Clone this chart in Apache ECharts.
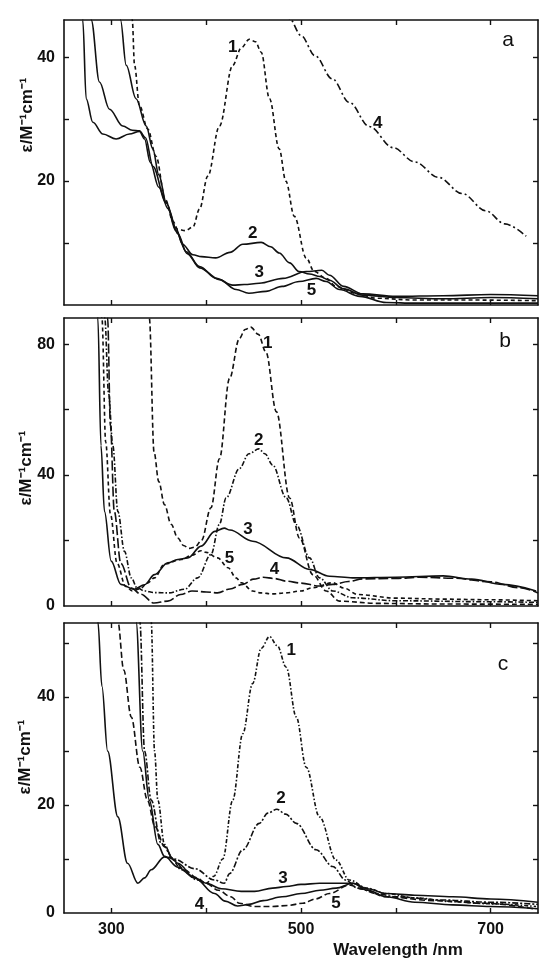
<!DOCTYPE html>
<html>
<head>
<meta charset="utf-8">
<script src="https://cdn.jsdelivr.net/npm/echarts@6/dist/echarts.min.js"></script>
<style>
html,body{margin:0;padding:0;background:#fff;}
#chart{width:542px;height:962px;}
</style>
</head>
<body>
<div id="chart"></div>
<script>
// ---------- data (wavelength nm, epsilon M^-1 cm^-1) ----------
const xTicks = [300, 400, 500, 600, 700];
const xLabels = [300, 500, 700];
const yTicksA = [10, 20, 30, 40];
const yLabelsA = [20, 40];
const yTicksB = [20, 40, 60, 80];
const yLabelsB = [0, 40, 80];
const yTicksC = [10, 20, 30, 40, 50];
const yLabelsC = [0, 20, 40];
const panelLetters = ['a', 'b', 'c'];
const yName = 'ε/M⁻¹cm⁻¹';
const xName = 'Wavelength /nm';

// panel a
const a1 = [[320,60],[322,46],[324.4,38.7],[329.6,32.2],[338.4,28.4],[347,24],[357,17],[365,13.5],[370,12.2],[378,12],[386,12.6],[393,15.5],[401.7,20.8],[414,28.9],[428,38.7],[437,41.5],[445.6,42.9],[452,42.5],[458,40.8],[466.8,33.3],[477,25.2],[484,20],[493,14.3],[505.5,7.6],[514,5.4],[526.5,4.3],[537,3.0],[558,1.9],[579,1.1],[620,0.8],[680,0.8],[750,0.7]];
const a2 = [[307,60],[309.6,46],[315.6,38.7],[326,33.3],[336.7,28.9],[343.7,25.2],[350,21],[358,16.5],[368,12.4],[375,9.8],[386,8.1],[395,7.8],[410,7.6],[425,8.5],[438.6,9.8],[458,10.1],[468,9.4],[477,8.4],[488,6.8],[498,5.4],[509,5.0],[520,4.6],[530,4.0],[545,2.6],[565,1.6],[600,1.2],[650,1.0],[700,1.2],[750,1.0]];
const a3 = [[276,60],[278.7,46],[287.4,36],[298,31.6],[312,28.9],[322,28.2],[329.6,28.1],[336,27],[343.7,22.4],[357.8,16.5],[368,12.0],[379,8.6],[393,6.2],[410.5,4.3],[428,3.2],[440,3.3],[456,3.5],[481,4.3],[505.5,5.4],[522,5.6],[530,4.8],[545,3.0],[565,1.8],[600,1.4],[650,1.5],[700,1.7],[750,1.5]];
const a4 = [[480,52],[488,46.2],[500,43.5],[515,40.2],[533,36.5],[551,32.7],[572,28.8],[597,25.4],[620,23.1],[645,20.6],[670,18.0],[695,15.2],[715,13.1],[737.5,11.1]];
const a5 = [[268,60],[269.8,46],[273.4,33.3],[280.4,29.5],[291,27.6],[305,26.8],[319,27.6],[329.6,28],[335,26.8],[341,23],[350,19],[360,15.5],[370,11.5],[380,8.3],[393,6.0],[414,4.1],[431.6,2.5],[445,1.9],[463,2.2],[480,3.0],[498,3.8],[516,4.3],[526.5,3.8],[540.6,2.5],[562,1.4],[590,0.4],[620,0.3],[680,0.3],[750,0.3]];

// panel b
const b1 = [[338,100],[340,88],[345,47],[350,38],[356,31],[363,25],[370,20.8],[376,18.5],[382,17.6],[388,18],[395,20],[405,30],[414,45],[424.6,69.5],[435,81.7],[441,84.5],[447,85.2],[455,83],[463,77.6],[474,59.4],[488,33],[498.4,20.8],[512.5,9.6],[526.6,4.6],[540.6,1.5],[580,0.8],[650,0.6],[750,0.5]];
const b2 = [[291,100],[293,88],[297,65],[301.5,49],[306.8,28.9],[313.8,16.7],[321,8.6],[327,5.6],[335,4.6],[345.5,4.1],[360,4.0],[377,5.1],[391,8.6],[405,15.7],[414,25],[421,33],[435,42],[445,46.5],[455.5,48],[462,46.5],[470,43.1],[484.5,33],[495,24.9],[509,14.7],[519.5,8.6],[533.6,4.6],[554.6,2.5],[600,1.6],[700,1.3],[750,1.1]];
const b3 = [[284,100],[285.7,88],[289,49],[292.7,28.9],[299.8,13.7],[310,6.6],[324,5.1],[335,6.5],[345.5,9.6],[359.5,13.2],[370,14.2],[380.6,14.7],[394.7,18.3],[409,22.8],[419,23.8],[425,23.2],[449,19.8],[484.5,14.7],[509,11.2],[530,9.1],[554.6,8.6],[600,8.8],[650,9.2],[680,8.2],[712.6,6.6],[748,4.6]];
const b4 = [[294,100],[296,88],[299,55],[303,29],[310,13],[321,5.5],[331,3.6],[345,0.9],[359.5,1.5],[373,3.5],[385,4.6],[400,4.3],[412,4.0],[425,5.2],[438.6,6.6],[450,8.2],[460,8.8],[472,8.4],[484.5,7.6],[500,7.0],[519.5,6.1],[533.6,6.6],[550,7.5],[565,8.3],[600,8.4],[625,8.8],[660,8.5],[700,7.4],[730,5.6],[750,4.0]];
const b5 = [[288,100],[290,88],[294,50],[299,28],[306,13],[315,6],[322,4.6],[330,5.2],[338,7],[345.5,8.6],[356,12.8],[373.6,14.2],[385,15.5],[394.7,16.9],[400,16.4],[412,14.7],[423,11.7],[431.6,8.6],[437,7.1],[449,4.6],[458,4.0],[470,3.7],[484,4.0],[500,4.6],[512.5,5.6],[533.6,7.1],[545,5.5],[560,3.5],[600,2.4],[650,2.1],[700,1.9],[750,1.6]];

// panel c
const c1 = [[340,70],[342,54],[345.5,30],[349,20.9],[356,12.7],[364,10],[373.6,8],[391,6.1],[400,5.5],[408,6.8],[417.5,10],[428,20.9],[438.6,33.2],[449,42.5],[458,49],[466.8,51.2],[475,49.5],[484.4,45.5],[495,36.3],[505.5,27],[519.5,17.8],[537,9.8],[551,6.1],[570,4.6],[590,3.6],[620,2.8],[660,2.1],[700,1.7],[748,1.2]];
const c2 = [[328,70],[330,54],[335,30],[342,20.9],[352.5,12.9],[366,10],[388,8.2],[408.8,6.1],[419,5.5],[424.6,7.3],[438.6,11.7],[456,16.6],[465,18.5],[474.5,19.2],[484,18.3],[495,16.6],[516,11.7],[533.6,8.6],[547,6.1],[560,4.6],[580,3.6],[600,3.0],[650,2.4],[700,2.0],[750,1.6]];
const c3 = [[324,70],[326,54],[333,30],[340,20.9],[349,12.7],[356,10.5],[370,8.5],[387.7,6.5],[400,5.5],[416,4.5],[437,4.0],[451,4.0],[470,4.6],[484.4,4.9],[500,5.3],[519.5,5.5],[554.6,5.5],[570,4.5],[590,3.6],[620,3.3],[660,3.0],[700,2.6],[750,2.0]];
const c4 = [[284,70],[285.7,54],[290,42],[296,30],[306.8,17.8],[317,9.2],[328,5.5],[335,6.5],[342,8],[356,10.4],[363,10.2],[370,9.2],[387.7,6.5],[408.8,3.6],[420,2.2],[433,1.3],[445,1.6],[460,2.3],[480,3.0],[500,3.6],[520,4.2],[537,4.6],[554.6,5.5],[570,4.2],[590,3.0],[620,2.0],[660,1.5],[700,1.2],[750,0.8]];
const c5 = [[305,70],[306.8,54],[313,45],[321,36.3],[330,27],[338,20.9],[346,16],[356,12.3],[366,9.8],[377,8],[390,6.5],[400,5.5],[413,4.2],[426,3.0],[435,1.8],[451,1.2],[470,1.2],[486,1.4],[502,1.8],[515,2.6],[530,3.6],[551,5.2],[565,4.4],[590,3.0],[640,2.3],[695,1.8],[748,0.7]];

// curve number annotations [text, wavelength, epsilon]
const labelsA = [['1',428,41.6],['2',449,11.6],['3',456,5.2],['4',581,29.4],['5',511,2.3]];
const labelsB = [['1',465,80.2],['2',455.5,50.7],['3',444,23.3],['4',472,11.2],['5',424.6,14.7]];
const labelsC = [['1',489.6,48.6],['2',479,21.2],['3',481,6.4],['4',393,1.7],['5',537,1.8]];

// ---------- layout ----------
const FONT = '"Liberation Sans", Arial, Helvetica, sans-serif';
const INK = '#111111';
const grids = [
  {left: 64, top: 20, width: 474, height: 285},
  {left: 64, top: 318, width: 474, height: 288},
  {left: 64, top: 623, width: 474, height: 290}
];
const yMax = [46, 88, 53.7];
const yTickSets = [yTicksA, yTicksB, yTicksC];
const yLabelSets = [yLabelsA, yLabelsB, yLabelsC];

const xAxes = [], yAxes = [];
for (let i = 0; i < 3; i++) {
  xAxes.push({
    gridIndex: i, type: 'value', min: 250, max: 750, position: 'bottom',
    axisLine: {show: true, onZero: false, lineStyle: {color: INK, width: 1.6}},
    axisTick: {show: true, inside: true, length: 5, customValues: xTicks, lineStyle: {color: INK, width: 1.4}},
    axisLabel: {show: i === 2, customValues: xLabels, margin: 9, color: INK, fontFamily: FONT, fontSize: 16, fontWeight: 'bold'},
    splitLine: {show: false}
  });
}
for (let i = 0; i < 3; i++) {
  xAxes.push({
    gridIndex: i, type: 'value', min: 250, max: 750, position: 'top',
    axisLine: {show: true, onZero: false, lineStyle: {color: INK, width: 1.6}},
    axisTick: {show: true, inside: true, length: 5, customValues: xTicks, lineStyle: {color: INK, width: 1.4}},
    axisLabel: {show: false}, splitLine: {show: false}
  });
}
for (let i = 0; i < 3; i++) {
  yAxes.push({
    gridIndex: i, type: 'value', min: 0, max: yMax[i], position: 'left',
    axisLine: {show: true, onZero: false, lineStyle: {color: INK, width: 1.6}},
    axisTick: {show: true, inside: true, length: 5, customValues: yTickSets[i], lineStyle: {color: INK, width: 1.4}},
    axisLabel: {show: true, customValues: yLabelSets[i], margin: 9, color: INK, fontFamily: FONT, fontSize: 16, fontWeight: 'bold'},
    splitLine: {show: false}
  });
}
for (let i = 0; i < 3; i++) {
  yAxes.push({
    gridIndex: i, type: 'value', min: 0, max: yMax[i], position: 'right',
    axisLine: {show: true, onZero: false, lineStyle: {color: INK, width: 1.6}},
    axisTick: {show: true, inside: true, length: 5, customValues: yTickSets[i], lineStyle: {color: INK, width: 1.4}},
    axisLabel: {show: false}, splitLine: {show: false}
  });
}

const panels = [
  {curves: [a1, a2, a3, a4, a5], dashes: [[4,3], null, null, [7,3,2,3], null], labels: labelsA},
  {curves: [b1, b2, b3, b4, b5], dashes: [[5,3], [5,2,1.5,2], null, [10,3], [4,3]], labels: labelsB},
  {curves: [c1, c2, c3, c4, c5], dashes: [[4,2,1.5,2], [6,2,2,2], null, null, [6,3]], labels: labelsC}
];

const series = [];
panels.forEach((p, i) => {
  p.curves.forEach((d, k) => {
    series.push({
      type: 'line', name: panelLetters[i] + (k + 1), xAxisIndex: i, yAxisIndex: i,
      data: d, showSymbol: false, symbol: 'none', smooth: 0.35, smoothMonotone: 'x',
      clip: true, silent: true,
      lineStyle: {color: INK, width: 1.6, type: p.dashes[k] || 'solid'}
    });
  });
});

const chart = echarts.init(document.getElementById('chart'), null, {renderer: 'canvas'});
chart.setOption({
  animation: false,
  backgroundColor: '#ffffff',
  grid: grids,
  xAxis: xAxes,
  yAxis: yAxes,
  series: series
});

// ---------- text annotations ----------
const letterPos = [[508, 40], [505, 341], [503, 664]];
const yNamePos = [[27, 115], [26, 468], [25, 757]];
const graphic = [];
for (let i = 0; i < 3; i++) {
  graphic.push({
    type: 'text', x: letterPos[i][0], y: letterPos[i][1], silent: true,
    style: {text: panelLetters[i], fill: INK, font: '21px ' + FONT, textAlign: 'center', textVerticalAlign: 'middle'}
  });
  graphic.push({
    type: 'text', x: yNamePos[i][0], y: yNamePos[i][1], rotation: Math.PI / 2, silent: true,
    style: {text: yName, fill: INK, font: 'bold 17px ' + FONT, textAlign: 'center', textVerticalAlign: 'middle'}
  });
  panels[i].labels.forEach(l => {
    const pt = chart.convertToPixel({xAxisIndex: i, yAxisIndex: i}, [l[1], l[2]]);
    graphic.push({
      type: 'text', x: pt[0], y: pt[1], silent: true, z: 10,
      style: {text: l[0], fill: INK, font: 'bold 17px ' + FONT, textAlign: 'center', textVerticalAlign: 'middle'}
    });
  });
}
graphic.push({
  type: 'text', x: 398, y: 950, silent: true,
  style: {text: xName, fill: INK, font: 'bold 17px ' + FONT, textAlign: 'center', textVerticalAlign: 'middle'}
});
chart.setOption({graphic: graphic});
</script>
</body>
</html>
